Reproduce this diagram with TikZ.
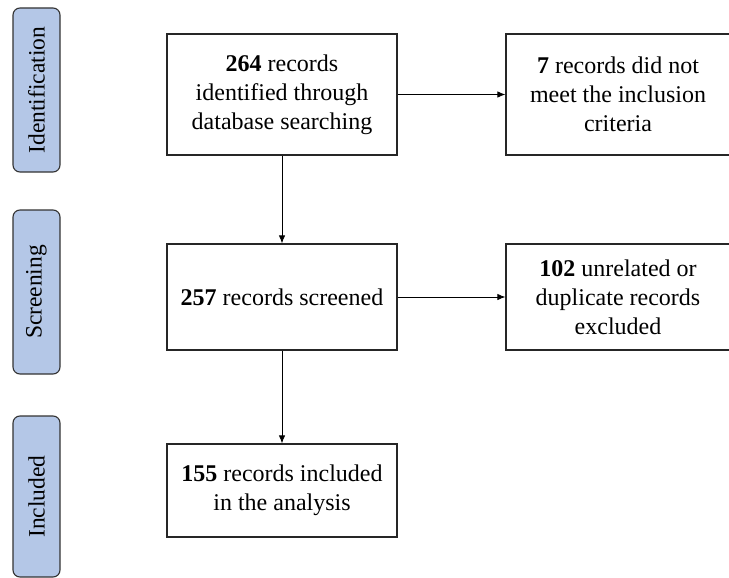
\documentclass[tikz,border=0pt]{standalone}
\usepackage{fontspec}
\setmainfont{Liberation Serif}
\usetikzlibrary{arrows.meta}
\definecolor{phase}{RGB}{180,199,231}

\begin{document}
\begin{tikzpicture}[
  x=1pt, y=-1pt,
  phasebox/.style={draw=black!80,fill=phase,rounded corners=7pt,line width=1.1pt,rotate=90,minimum height=47pt,inner sep=0pt,font=\fontsize{23.5}{28}\selectfont},
  recbox/.style={draw=black!85,line width=1.3pt,align=center,inner sep=0pt,minimum width=230pt,font=\fontsize{24}{29}\selectfont},
  flow/.style={line width=0.8pt,-{Latex[length=8pt,width=6.5pt]}}
]
  \useasboundingbox (0,0) rectangle (729,578);
  % phases
  \node[phasebox,minimum width=164pt] (pid) at (36.5,90) {Identification};
  \node[phasebox,minimum width=164pt] (psc) at (36.5,292) {Screening};
  \node[phasebox,minimum width=161pt] (pin) at (36.5,496.5) {Included};
  % records
  \node[recbox,minimum height=121pt] (ident) at (282,94.5) {\textbf{264} records\\identified through\\database searching};
  \node[recbox,minimum height=121pt,minimum width=224pt] (notmet) at (618,94.5) {\textbf{7} records did not\\meet the inclusion\\criteria};
  \node[recbox,minimum height=106pt] (screen) at (282,297) {\textbf{257} records screened};
  \node[recbox,minimum height=106pt,minimum width=224pt] (dupl) at (618,297) {\textbf{102} unrelated or\\duplicate records\\excluded};
  \node[recbox,minimum height=93pt] (incl) at (282,490.5) {\textbf{155} records included\\in the analysis};
  % arrows
  \draw[flow] (ident) -- (notmet);
  \draw[flow] (ident) -- (screen);
  \draw[flow] (screen) -- (dupl);
  \draw[flow] (screen) -- (incl);
\end{tikzpicture}
\end{document}
